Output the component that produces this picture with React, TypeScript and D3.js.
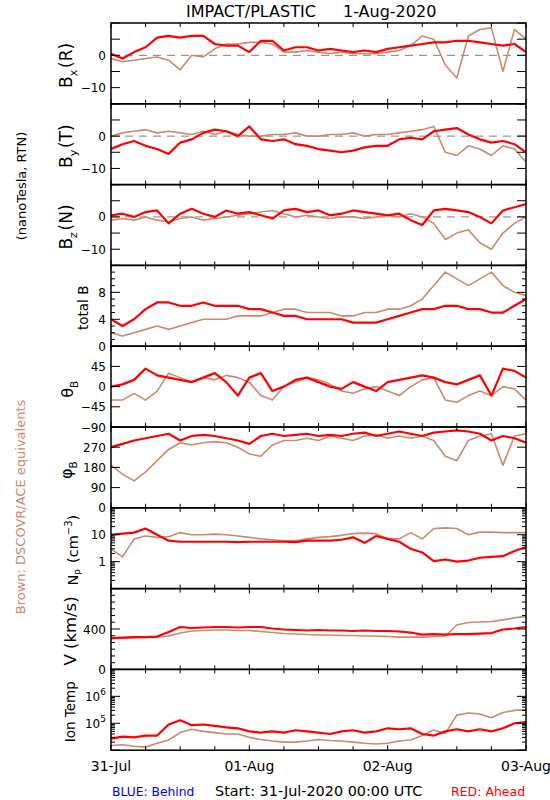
import React, { useEffect } from 'react';
import * as d3 from 'd3';

// ---------- data (2-hour steps from 31-Jul 00:00) ----------
const HOURS = [0, 2, 4, 6, 8, 10, 12, 14, 16, 18, 20, 22, 24, 26, 28, 30, 32, 34, 36, 38, 40, 42, 44, 46, 48, 50, 52, 54, 56, 58, 60, 62, 64, 66, 68, 70, 72];
const DAY_HOURS = [0, 24, 48, 72];
const DAY_LABELS = ['31-Jul', '01-Aug', '02-Aug', '03-Aug'];

const BX_RED = [0.5, -1, 1, 2.5, 5.5, 6, 5.5, 6, 6, 3.5, 3, 3, 1, 4.5, 4.5, 1.5, 2.5, 2.5, 1.5, 2, 1.5, 1, 1.5, 1, 2, 2.5, 3, 3.5, 4, 4, 4.5, 4.5, 4, 3.5, 3, 3.5, 1];
const BX_BROWN = [-1, -2, -1.5, -1, -0.5, -1.5, -4.5, 0, -0.5, 2, 3.5, 3.5, 4, 4, 3.5, 1, 1, 1.5, 1, 0.5, 1, 0.5, 0.5, 0.5, 1, 1.5, 3, 6, 5, -3, -7, 6, 8, 8.5, -5, 8, 5];
const BY_RED = [-4, -2.5, -1.5, -3, -4, -5.5, -2, -1, 1, 2, 1.5, 0, 3, -1, -1.5, -1, -2.5, -3, -4, -4.5, -5, -4.5, -3.5, -3, -3, -1, -0.5, -1, 1.5, 2, 2.5, 0.5, -1, -2, -1.5, -2.5, -5];
const BY_BROWN = [0, 1, 1.5, 2, 1, 1.5, 1, 0.5, 1.5, 0.5, 1.5, 0.5, 0, 0, 0.5, 0.5, 1, 0, 0, 0.5, 0.5, 1, 0, 0.5, 0.5, 1, 1.5, 2, 3, -5, -6, -3, -4, -6, -3, -4, -8];
const BZ_RED = [0.5, 1, 0, 1.5, 2, -2, 1, 2.5, 1, 0, 2, 1, 1.5, 0.5, -0.5, 2, 2.5, 1.5, 2, 0.5, 1, 2, 1.5, 1, 0.5, 1, -1, -2.5, 2, 2.5, 2, 1.5, 0, -2, 2, 3, 4];
const BZ_BROWN = [-1, -0.5, -1, 0, -1, -1.5, -0.5, 0, -1, -0.5, 0, 0.5, 1, 1.5, 2, 1, 0, 0.5, 0, -0.5, 0, 0, -0.5, 0, 0.5, 0, 1, 0, -2, -7, -5, -4, -8, -10, -5, -2, 0];
const BT_RED = [4, 3, 4, 5.5, 6.5, 6.5, 6, 6, 6.5, 6, 6, 6, 5.5, 5.5, 5, 4.5, 4.5, 4, 4, 4, 4, 3.5, 3.5, 3.5, 4, 4.5, 5, 5.5, 5.5, 6, 6, 5.5, 5.5, 5, 5, 6, 7];
const BT_BROWN = [2, 1.5, 2, 2.5, 3, 2.5, 3, 3.5, 4, 4, 4, 4.5, 4.5, 4.5, 5, 5.5, 5.5, 5, 5, 5, 4.5, 4.5, 5, 5, 5.5, 5.5, 6, 7, 9, 11, 10, 9, 10, 11, 9, 8, 7.5];
const TH_RED = [0, 5, 15, 40, 25, 20, 15, 10, 20, 30, 10, -20, 20, 30, -10, 0, 15, 20, 10, 0, -5, 10, 0, -10, 10, 15, 20, 25, 20, 10, 5, 15, 25, -20, 40, 35, 20];
const TH_BROWN = [-30, -30, -15, -30, -10, 30, 20, 10, 20, 15, 25, 20, 10, -20, -30, 0, 10, 20, 15, 5, -10, -15, -5, 0, -10, -20, 0, 15, 20, -30, -35, -20, -10, -20, 0, -5, -30];
const PH_RED = [270, 285, 300, 310, 320, 330, 300, 320, 325, 320, 310, 300, 285, 320, 330, 320, 325, 330, 320, 325, 320, 330, 335, 320, 330, 340, 330, 320, 335, 340, 345, 340, 330, 300, 320, 310, 290];
const PH_BROWN = [190, 150, 120, 160, 210, 260, 290, 280, 290, 295, 290, 270, 240, 230, 280, 300, 300, 310, 300, 320, 310, 300, 320, 325, 310, 320, 310, 320, 300, 230, 210, 300, 320, 330, 190, 320, 330];
const NP_RED = [10, 11, 12, 17, 10, 6, 5.5, 5.5, 5.5, 5.5, 5.5, 5.3, 5.5, 5.5, 5.5, 5.5, 5.3, 6, 6, 6, 6.5, 8, 5, 9, 7, 5.5, 3, 2.2, 1.05, 1.2, 1.0, 1.1, 1.4, 1.5, 1.6, 2.5, 3.5];
const NP_BROWN = [3, 1.5, 7, 9, 8, 8.5, 12, 10, 10, 10.5, 10, 9, 8, 7, 6.5, 6, 6, 7, 8, 8.5, 9.5, 11, 11.5, 11, 7, 7, 12, 7, 17, 18, 17, 10, 12.5, 12.5, 12, 12, 12];
const V_RED = [310, 315, 320, 320, 325, 370, 420, 410, 415, 420, 420, 415, 420, 420, 405, 395, 390, 385, 390, 385, 385, 380, 385, 380, 380, 375, 365, 345, 350, 345, 350, 350, 355, 360, 395, 405, 420];
const V_BROWN = [305, 310, 315, 320, 320, 330, 360, 380, 385, 390, 390, 385, 385, 375, 365, 355, 350, 345, 340, 340, 335, 335, 330, 330, 325, 320, 320, 320, 325, 330, 440, 465, 470, 475, 490, 510, 525];
const T_RED = [2.7e4, 3.2e4, 3e4, 3.5e4, 3.5e4, 9e4, 1.3e5, 8.5e4, 9e4, 8e4, 7e4, 6.5e4, 5e4, 4.5e4, 5e4, 4.5e4, 5.5e4, 5e4, 4.5e4, 4e4, 5e4, 5.5e4, 4.5e4, 5e4, 6.5e4, 6e4, 6.5e4, 4e4, 3.5e4, 5e4, 6e4, 5e4, 6e4, 5e4, 6.5e4, 1e5, 1.1e5];
const T_BROWN = [1.5e4, 1.6e4, 1.4e4, 1.3e4, 1.8e4, 2.4e4, 4.5e4, 6e4, 5e4, 4.5e4, 4e4, 4e4, 3e4, 2.5e4, 2.2e4, 2e4, 2e4, 2.2e4, 2.5e4, 2.3e4, 2.2e4, 2e4, 1.8e4, 1.7e4, 1.8e4, 2.2e4, 2.4e4, 3.5e4, 5.6e4, 4.2e4, 2e5, 2.4e5, 2.2e5, 1.6e5, 2.5e5, 3e5, 3.2e5];

// tick values
const B_TICKS = [-15, -10, -5, 0, 5, 10];
const B_LABELS = [0, -10];
const BT_MAJOR = [0, 4, 8, 12];
const BT_MINOR = [1, 2, 3, 5, 6, 7, 9, 10, 11];
const BT_LABELS = [0, 4, 8];
const TH_TICKS = [-90, -45, 0, 45, 90];
const TH_LABELS = [-90, -45, 0, 45];
const PH_TICKS = [0, 90, 180, 270, 360];
const PH_LABELS = [0, 90, 180, 270];
const NP_LABELS = [1, 10];
const V_MAJOR = [0, 400, 800];
const V_LABELS = [0, 400];
const T_LABELS = [1e5, 1e6];

// ---------- layout ----------
const X0 = 111, X1 = 526, TOP = 23, PH = 80.8;
const RED = '#ff0000', BROWN = '#c98b6e';
const FONT = '"DejaVu Sans", Verdana, sans-serif';
const fmt = (v: number) => (v < 0 ? '\u2212' + Math.abs(v) : String(v));

type Panel = {
  log?: boolean;
  domain: [number, number];
  major: number[];
  minor: number[];
  labels: number[];
  title: React.ReactNode;
  titleX: number;
  titleSize: number;
  zero?: boolean;
  red: number[];
  brown: number[];
};

const sub = (t: string, size: number) => (
  <>
    <tspan dy={size * 0.3} fontSize={size * 0.65}>{t}</tspan>
    <tspan dy={-size * 0.3}>{'\u200a'}</tspan>
  </>
);

function logMinor(lo: number, hi: number) {
  const s = d3.scaleLog().domain([lo, hi]);
  return s.ticks().filter((t) => Math.abs(Math.log10(t) - Math.round(Math.log10(t))) > 1e-6);
}
function logMajor(lo: number, hi: number) {
  const out: number[] = [];
  for (let e = Math.round(Math.log10(lo)); e <= Math.round(Math.log10(hi)); e++) out.push(Math.pow(10, e));
  return out;
}

const PANELS: Panel[] = [
  { domain: [-15, 10], major: B_TICKS, minor: [], labels: B_LABELS, zero: true, red: BX_RED, brown: BX_BROWN, titleX: 72, titleSize: 17,
    title: <>B{sub('x', 17)}(R)</> },
  { domain: [-15, 10], major: B_TICKS, minor: [], labels: B_LABELS, zero: true, red: BY_RED, brown: BY_BROWN, titleX: 72, titleSize: 17,
    title: <>B{sub('y', 17)}(T)</> },
  { domain: [-15, 10], major: B_TICKS, minor: [], labels: B_LABELS, zero: true, red: BZ_RED, brown: BZ_BROWN, titleX: 72, titleSize: 17,
    title: <>B{sub('z', 17)}(N)</> },
  { domain: [0, 12], major: BT_MAJOR, minor: BT_MINOR, labels: BT_LABELS, red: BT_RED, brown: BT_BROWN, titleX: 88, titleSize: 13.5,
    title: <>total B</> },
  { domain: [-90, 90], major: TH_TICKS, minor: [], labels: TH_LABELS, red: TH_RED, brown: TH_BROWN, titleX: 73, titleSize: 16,
    title: <>θ{sub('B', 16)}</> },
  { domain: [0, 360], major: PH_TICKS, minor: [], labels: PH_LABELS, red: PH_RED, brown: PH_BROWN, titleX: 72, titleSize: 16,
    title: <>φ{sub('B', 16)}</> },
  { log: true, domain: [0.1, 100], major: logMajor(0.1, 100), minor: logMinor(0.1, 100), labels: NP_LABELS, red: NP_RED, brown: NP_BROWN, titleX: 78, titleSize: 14.5,
    title: <>N{sub('P', 14.5)} (cm<tspan dy={-6} fontSize={10}>−3</tspan><tspan dy={6}>)</tspan></> },
  { domain: [0, 800], major: V_MAJOR, minor: d3.range(0, 800, 400 / 6).filter((v) => v % 400 > 1), labels: V_LABELS, red: V_RED, brown: V_BROWN, titleX: 76, titleSize: 16.5,
    title: <>V (km/s)</> },
  { log: true, domain: [1e4, 1e7], major: logMajor(1e4, 1e7), minor: logMinor(1e4, 1e7), labels: T_LABELS, red: T_RED, brown: T_BROWN, titleX: 75, titleSize: 13.5,
    title: <>Ion Temp</> },
];

export default function App() {
  useEffect(() => {
    document.body.style.margin = '0';
  }, []);
  const x = d3.scaleLinear().domain([0, 72]).range([X0, X1]);
  const xTicks = d3.range(0, 73, 6);

  return (
    <div style={{ position: 'absolute', left: 0, top: 0 }}>
      <svg width={550} height={800} style={{ display: 'block', background: '#fff' }} fontFamily={FONT}>
        <rect width={550} height={800} fill="#fff" />
        <text x={186} y={16.7} fontSize={16}>IMPACT/PLASTIC</text>
        <text x={343} y={16.7} fontSize={16}>1-Aug-2020</text>

        {PANELS.map((p, i) => {
          const y0 = TOP + i * PH;
          const y1 = y0 + PH;
          const y = (p.log ? d3.scaleLog() : d3.scaleLinear()).domain(p.domain).range([y1, y0]);
          const line = d3
            .line<number>()
            .x((_, j) => x(HOURS[j]))
            .y((v) => y(v));
          const cid = `clip${i}`;
          return (
            <g key={i}>
              <defs>
                <clipPath id={cid}>
                  <rect x={X0} y={y0} width={X1 - X0} height={PH} />
                </clipPath>
              </defs>
              <g clipPath={`url(#${cid})`}>
                {p.zero && (
                  <line x1={X0} x2={X1} y1={y(0)} y2={y(0)} stroke="#808080" strokeWidth={1} strokeDasharray="8,6" />
                )}
                <path d={line(p.brown) || ''} fill="none" stroke={BROWN} strokeWidth={1.6} strokeLinejoin="round" />
                <path d={line(p.red) || ''} fill="none" stroke={RED} strokeWidth={2.2} strokeLinejoin="round" />
              </g>
              {/* x ticks top & bottom */}
              {xTicks.map((h) => {
                const len = h % 24 === 0 ? 5 : 4;
                return (
                  <g key={h} stroke="#000" strokeWidth={1}>
                    <line x1={x(h)} x2={x(h)} y1={y0} y2={y0 + len} />
                    <line x1={x(h)} x2={x(h)} y1={y1} y2={y1 - len} />
                  </g>
                );
              })}
              {/* y ticks */}
              {p.major.map((v) => (
                <g key={'M' + v} stroke="#000" strokeWidth={1}>
                  <line x1={X0} x2={X0 + 9} y1={y(v)} y2={y(v)} />
                  <line x1={X1} x2={X1 - 9} y1={y(v)} y2={y(v)} />
                </g>
              ))}
              {p.minor.map((v) => (
                <g key={'m' + v} stroke="#000" strokeWidth={1}>
                  <line x1={X0} x2={X0 + 4} y1={y(v)} y2={y(v)} />
                  <line x1={X1} x2={X1 - 4} y1={y(v)} y2={y(v)} />
                </g>
              ))}
              {/* tick labels */}
              {p.labels.map((v) =>
                p.log ? (
                  v >= 1e3 ? (
                    <text key={'l' + v} x={106} y={y(v) + 4.5} fontSize={12} textAnchor="end">
                      10<tspan dy={-6} fontSize={9}>{Math.round(Math.log10(v))}</tspan>
                    </text>
                  ) : (
                    <text key={'l' + v} x={106} y={y(v) + 4.5} fontSize={12} textAnchor="end">{fmt(v)}</text>
                  )
                ) : (
                  <text key={'l' + v} x={106} y={y(v) + 4.5} fontSize={12} textAnchor="end">{fmt(v)}</text>
                )
              )}
              {/* frame */}
              <rect x={X0} y={y0} width={X1 - X0} height={PH} fill="none" stroke="#000" strokeWidth={1.5} />
              {/* y title */}
              <text
                transform={`translate(${p.titleX},${(y0 + y1) / 2 + 2}) rotate(-90)`}
                textAnchor="middle"
                fontSize={p.titleSize}
              >
                {p.title}
              </text>
            </g>
          );
        })}

        {/* x labels */}
        {DAY_HOURS.map((h, i) => (
          <text key={h} x={x(h)} y={771} fontSize={14} textAnchor="middle">{DAY_LABELS[i]}</text>
        ))}

        {/* global side labels */}
        <text transform="translate(26,186) rotate(-90)" textAnchor="middle" fontSize={13}>(nanoTesla, RTN)</text>
        <text transform="translate(25,507) rotate(-90)" textAnchor="middle" fontSize={13} fill={BROWN}>
          Brown: DSCOVR/ACE equivalents
        </text>

        {/* footer */}
        <text x={112} y={796} fontSize={12.3} fill="#0000ff">BLUE: Behind</text>
        <text x={215} y={796} fontSize={14.4}>Start: 31-Jul-2020 00:00 UTC</text>
        <text x={451} y={796} fontSize={12.5} fill={RED}>RED: Ahead</text>
      </svg>
    </div>
  );
}
